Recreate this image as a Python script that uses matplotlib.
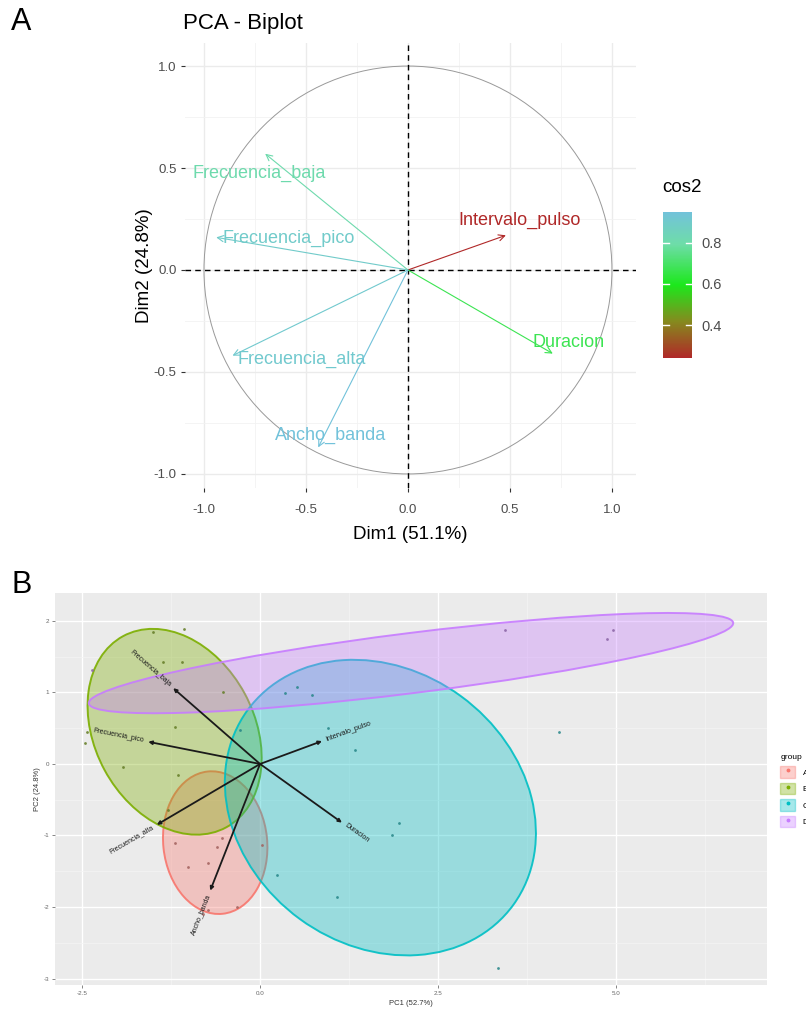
import numpy as np
import matplotlib
matplotlib.use("Agg")
import matplotlib.pyplot as plt
from matplotlib.colors import LinearSegmentedColormap, Normalize, to_rgb
from matplotlib.patches import Ellipse, Circle, Patch
from matplotlib.lines import Line2D
from matplotlib.cm import ScalarMappable

plt.rcParams['font.family'] = ['Liberation Sans', 'DejaVu Sans']
plt.rcParams['axes.unicode_minus'] = False

# ---- panel A: correlation circle (variables) ----
variables = ['Frecuencia_baja', 'Frecuencia_pico', 'Intervalo_pulso',
             'Duracion', 'Frecuencia_alta', 'Ancho_banda']
dim1 = [-0.70, -0.94, 0.48, 0.71, -0.86, -0.44]
dim2 = [0.57, 0.16, 0.17, -0.41, -0.42, -0.87]
cos2 = [0.81, 0.90, 0.24, 0.67, 0.91, 0.95]

# ---- panel B: biplot of the observations ----
pc1_load = [-1.22, -1.57, 0.87, 1.15, -1.45, -0.70]
pc2_load = [1.06, 0.31, 0.32, -0.82, -0.85, -1.77]

groups = ['A', 'B', 'C', 'D']
group_colors = ['#F8766D', '#7CAE00', '#00BFC4', '#C77CFF']
pc1_A = [-1.19, -0.53, -0.60, -1.01, -0.73, 0.03, -0.80, -0.73, -0.32]
pc2_A = [-1.10, -1.03, -1.16, -1.44, -1.38, -1.13, -2.10, -2.04, -2.00]
pc1_B = [-1.50, -1.07, -1.36, -1.10, -0.52, -1.19, -2.46, -1.92, -1.15, -1.29, -2.43]
pc2_B = [1.84, 1.89, 1.42, 1.42, 1.01, 0.52, 0.29, -0.04, -0.15, -0.64, 0.45]
pc1_C = [0.35, 0.52, 0.73, 1.33, 1.85, 1.95, 0.24, 1.08, 3.34, 4.20, -0.28, 0.95]
pc2_C = [0.99, 1.08, 0.96, 0.20, -0.99, -0.83, -1.55, -1.86, -2.85, 0.45, 0.47, 0.50]
pc1_D = [3.44, 4.96, 4.87, -2.36]
pc2_D = [1.87, 1.87, 1.75, 1.31]

# confidence ellipses: centre, full width, full height, angle (deg)
ell_cx = [-0.63, -1.20, 1.69, 2.12]
ell_cy = [-1.10, 0.45, -0.61, 1.41]
ell_w = [2.00, 3.04, 4.62, 9.12]
ell_h = [1.46, 2.24, 3.85, 0.84]
ell_ang = [96, 118.5, -36, 7.1]

fig = plt.figure(figsize=(8.06, 10.11), dpi=100)
W, H = 806, 1011


def box(l, t, r, b):
    return [l / W, 1 - b / H, (r - l) / W, (b - t) / H]


# ================= Panel A =================
axA = fig.add_axes(box(185, 43, 636, 488))
axA.set_xlim(-1.093, 1.118)
axA.set_ylim(-1.069, 1.113)
for s in axA.spines.values():
    s.set_visible(False)
axA.set_xticks([-1.0, -0.5, 0.0, 0.5, 1.0])
axA.set_yticks([-1.0, -0.5, 0.0, 0.5, 1.0])
axA.set_xticks([-0.75, -0.25, 0.25, 0.75], minor=True)
axA.set_yticks([-0.75, -0.25, 0.25, 0.75], minor=True)
axA.grid(True, which='major', color='#EBEBEB', lw=1.0)
axA.grid(True, which='minor', color='#F2F2F2', lw=0.6)
axA.set_axisbelow(True)
axA.tick_params(which='major', length=3, width=0.8, color='#333333',
                labelsize=9.5, labelcolor='#4D4D4D', pad=3)
axA.tick_params(axis='x', which='major', pad=8.5)
axA.tick_params(which='minor', length=0)

axA.add_patch(Circle((0, 0), 1.0, fill=False, ec='#999999', lw=0.7))
axA.axhline(0, color='black', lw=1.0, ls=(0, (4, 3)))
axA.axvline(0, color='black', lw=1.0, ls=(0, (4, 3)))

cmap = LinearSegmentedColormap.from_list(
    'cos2', [(0.0, '#B02828'), (0.25, '#858A1E'), (0.5, '#1CE81C'),
             (0.78, '#6EDDA8'), (1.0, '#72C2DA')])
norm = Normalize(vmin=min(cos2), vmax=max(cos2))

# label offsets relative to arrow tips (as the repelled labels sit)
lab_dx = [-0.03, 0.356, 0.065, 0.075, 0.34, 0.063]
lab_dy = [-0.094, -0.005, 0.073, 0.054, -0.02, 0.058]
for name, x, y, c, dx, dy in zip(variables, dim1, dim2, cos2, lab_dx, lab_dy):
    col = cmap(norm(c))
    axA.annotate('', xy=(x, y), xytext=(0, 0),
                 arrowprops=dict(arrowstyle='->', color=col, lw=0.8,
                                 mutation_scale=11, shrinkA=0, shrinkB=0))
    axA.text(x + dx, y + dy, name, color=col, fontsize=13,
             ha='center', va='center')

axA.set_xlabel('Dim1 (51.1%)', fontsize=13.5, color='black')
axA.set_ylabel('Dim2 (24.8%)', fontsize=13.5, color='black')
axA.xaxis.set_label_coords(0.5, -(526 - 488) / 445)
axA.yaxis.set_label_coords(-(185 - 153) / 451, 0.5)

cax = fig.add_axes(box(663, 212, 692, 358))
cb = fig.colorbar(ScalarMappable(norm=norm, cmap=cmap), cax=cax)
cb.outline.set_visible(False)
cb.set_ticks([0.4, 0.6, 0.8])
cb.ax.tick_params(length=0, labelsize=10.5, labelcolor='#4D4D4D', pad=7)
for t in [0.4, 0.6, 0.8]:
    cb.ax.axhline(t, xmin=0, xmax=0.2, color='white', lw=1)
    cb.ax.axhline(t, xmin=0.8, xmax=1, color='white', lw=1)
fig.text(662 / W, 1 - 188 / H, 'cos2', fontsize=13.5, ha='left', va='center')

fig.text(183 / W, 1 - 23 / H, 'PCA - Biplot', fontsize=16, ha='left', va='center')
fig.text(11 / W, 1 - 22 / H, 'A', fontsize=22, ha='left', va='center')
fig.text(11 / W, 1 - 585 / H, 'B', fontsize=22, ha='left', va='center')

# ================= Panel B =================
axB = fig.add_axes(box(55, 593, 767, 985))
axB.set_facecolor('#EBEBEB')
axB.set_xlim(-2.88, 7.12)
axB.set_ylim(-3.09, 2.39)
for s in axB.spines.values():
    s.set_visible(False)
axB.set_xticks([-2.5, 0.0, 2.5, 5.0])
axB.set_xticks([-1.25, 1.25, 3.75, 6.25], minor=True)
axB.set_yticks([-3, -2, -1, 0, 1, 2])
axB.set_yticks([-2.5, -1.5, -0.5, 0.5, 1.5], minor=True)
axB.grid(True, which='major', color='white', lw=1.0)
axB.grid(True, which='minor', color='#F4F4F4', lw=0.5)
axB.set_axisbelow(True)
axB.tick_params(which='major', length=2, width=0.5, color='#555555',
                labelsize=4.5, labelcolor='#666666', pad=2)
axB.tick_params(which='minor', length=0)

pts_x = [pc1_A, pc1_B, pc1_C, pc1_D]
pts_y = [pc2_A, pc2_B, pc2_C, pc2_D]
for g, col, cx, cy, w, h, a in zip(groups, group_colors, ell_cx, ell_cy,
                                    ell_w, ell_h, ell_ang):
    axB.add_patch(Ellipse((cx, cy), w, h, angle=a, fc=col, alpha=0.35, ec='none'))
    axB.add_patch(Ellipse((cx, cy), w, h, angle=a, fill=False, ec=col, lw=1.4, alpha=0.9))

for col, xs, ys in zip(group_colors, pts_x, pts_y):
    dark = tuple(0.5 * np.array(to_rgb(col)) + 0.5 * np.array(to_rgb('#4A4A4A')))
    axB.scatter(xs, ys, s=4, color=dark, alpha=0.85, lw=0, zorder=3)

for name, x, y in zip(variables, pc1_load, pc2_load):
    axB.annotate('', xy=(x, y), xytext=(0, 0),
                 arrowprops=dict(arrowstyle='-|>', color='#1A1A1A', lw=1.3,
                                 mutation_scale=5, shrinkA=0, shrinkB=0), zorder=4)
    ang = np.degrees(np.arctan(y / x))
    u = np.array([x, y]) / np.hypot(x, y) * 3
    axB.annotate(name, xy=(x, y), xytext=(u[0], u[1]), textcoords='offset points',
                 rotation=ang, rotation_mode='anchor',
                 ha='left' if x > 0 else 'right', va='center',
                 fontsize=5, color='#1A1A1A', zorder=4)

axB.set_xlabel('PC1 (52.7%)', fontsize=5.5, color='#333333', labelpad=3)
axB.set_ylabel('PC2 (24.8%)', fontsize=5.5, color='#333333', labelpad=2)

# legend sits partly past the right edge, cut off as in the original figure
handles = []
for col in group_colors:
    handles.append((Patch(fc=col, alpha=0.35, ec=col, lw=1),
                    Line2D([], [], ls='none', marker='o', ms=1.8, color=col)))
axB.legend(handles, groups, title='group', loc='upper left',
           bbox_to_anchor=(1.0165, 0.593), frameon=False, fontsize=6,
           title_fontsize=6, handlelength=1.75, handleheight=1.75,
           borderaxespad=0, borderpad=0.2, labelspacing=0.6,
           handletextpad=0.9, alignment='left')

fig.savefig('out.png', dpi=100)
